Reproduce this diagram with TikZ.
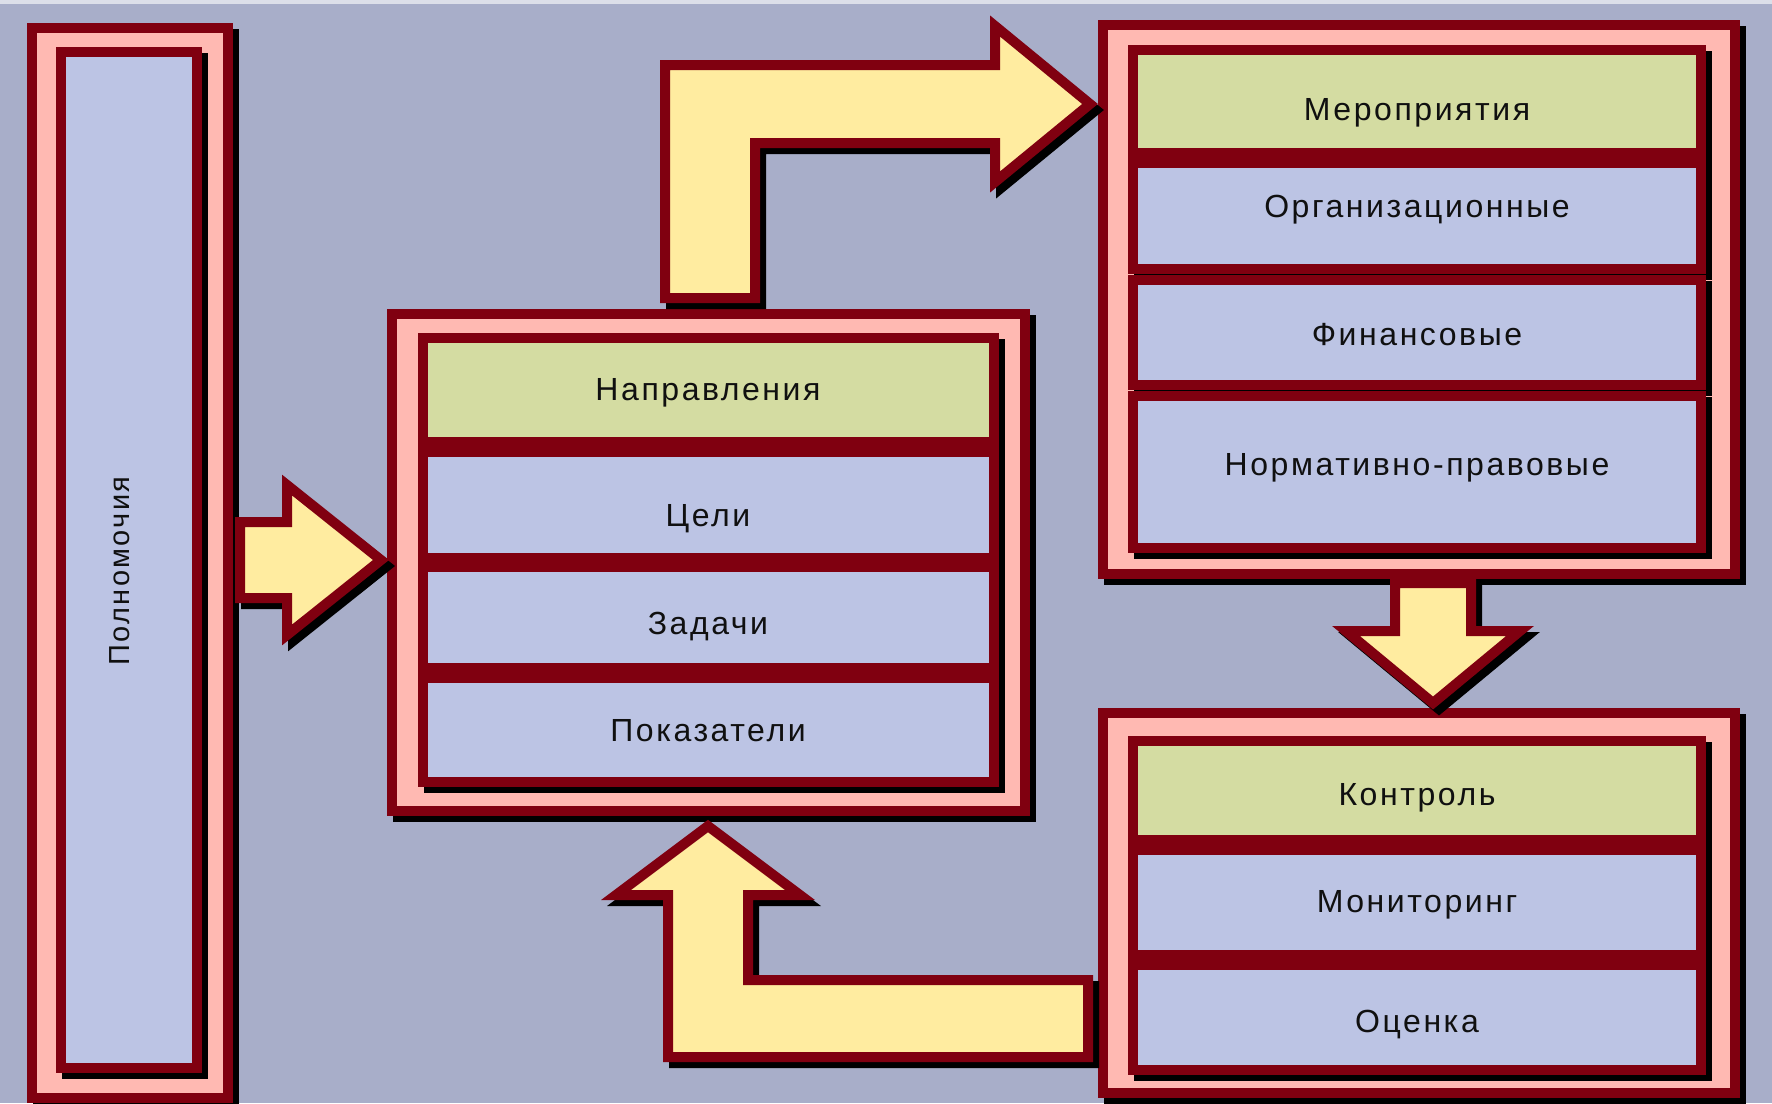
\documentclass[tikz,border=0pt]{standalone}
\usepackage{fontspec}
\newfontfamily\lblfont{Liberation Sans}[LetterSpace=8]
\definecolor{bgc}{HTML}{A8AEC9}
\definecolor{dred}{HTML}{800010}
\definecolor{pinkf}{HTML}{FFB9B2}
\definecolor{bluef}{HTML}{BCC4E4}
\definecolor{greenf}{HTML}{D4DCA2}
\definecolor{yellowf}{HTML}{FFECA0}
\definecolor{txt}{HTML}{101010}
\newcommand\framedrect[5]{%
  \path[shad] (#1+6,#2+6) rectangle (#3+6,#4+6);
  \path[#5] (#1,#2) rectangle (#3,#4);}
\newcommand\blockarrow[1]{%
  \path[shad,shift={(6,6)}] #1;
  \path[barrow] #1;}
\begin{document}
\begin{tikzpicture}[x=0.5pt,y=-0.5pt,
  frame/.style={line width=5pt,draw=dred,fill=pinkf},
  hrow/.style={line width=5pt,draw=dred,fill=greenf},
  brow/.style={line width=5pt,draw=dred,fill=bluef},
  shad/.style={line width=5pt,draw=black,fill=black,line join=miter},
  barrow/.style={line width=5pt,draw=dred,fill=yellowf,line join=miter},
  lbl/.style={font=\lblfont\fontsize{16}{19}\selectfont,text=txt,inner sep=0pt}]
\useasboundingbox (0,0) rectangle (1772,1103);
\clip (0,0) rectangle (1772,1103);
\fill[bgc] (0,0) rectangle (1772,1103);
\fill[white!60!bgc] (0,0) rectangle (1772,4);
% left box
\framedrect{32}{28}{228}{1098}{frame}
\framedrect{61}{52}{197}{1068}{brow}
\node[lbl,rotate=90,font=\lblfont\fontsize{14.5}{17}\selectfont] (pol) at (120,571) {Полномочия};
% middle box
\framedrect{392}{314}{1025}{811}{frame}
\framedrect{423}{338}{994}{442}{hrow}
\framedrect{423}{452}{994}{558}{brow}
\framedrect{423}{567}{994}{668}{brow}
\framedrect{423}{678}{994}{782}{brow}
\node[lbl] (nap) at (708,393) {Направления};
\node[lbl] (cel) at (708,519) {Цели};
\node[lbl] (zad) at (708,627) {Задачи};
\node[lbl] (pok) at (708,731) {Показатели};
% top right box
\framedrect{1103}{25}{1735}{574}{frame}
\framedrect{1133}{50}{1701}{153}{hrow}
\framedrect{1133}{163}{1701}{269}{brow}
\framedrect{1133}{280}{1701}{385}{brow}
\framedrect{1133}{396}{1701}{548}{brow}
\node[lbl] (mer) at (1417,113) {Мероприятия};
\node[lbl] (org) at (1417,210) {Организационные};
\node[lbl] (fin) at (1417,335) {Финансовые};
\node[lbl] (nor) at (1417,468) {Нормативно-правовые};
% bottom right box
\framedrect{1103}{713}{1735}{1093}{frame}
\framedrect{1133}{741}{1701}{840}{hrow}
\framedrect{1133}{850}{1701}{955}{brow}
\framedrect{1133}{965}{1701}{1070}{brow}
\node[lbl] (kon) at (1417,798) {Контроль};
\node[lbl] (mon) at (1417,905) {Мониторинг};
\node[lbl] (oce) at (1417,1025) {Оценка};
% block arrows
\blockarrow{(240,522) -- (287,522) -- (287,485) -- (381,560) -- (287,635) -- (287,598) -- (240,598) -- cycle}
\blockarrow{(665,298) -- (665,65) -- (995,65) -- (995,26) -- (1090,104) -- (995,182) -- (995,143) -- (755,143) -- (755,298) -- cycle}
\blockarrow{(1395,583) -- (1395,631) -- (1346,631) -- (1433,703) -- (1520,631) -- (1471,631) -- (1471,583) -- cycle}
\blockarrow{(1088,980) -- (748,980) -- (748,895) -- (800,895) -- (708,826) -- (616,895) -- (668,895) -- (668,1057) -- (1088,1057) -- cycle}
\end{tikzpicture}
\end{document}
